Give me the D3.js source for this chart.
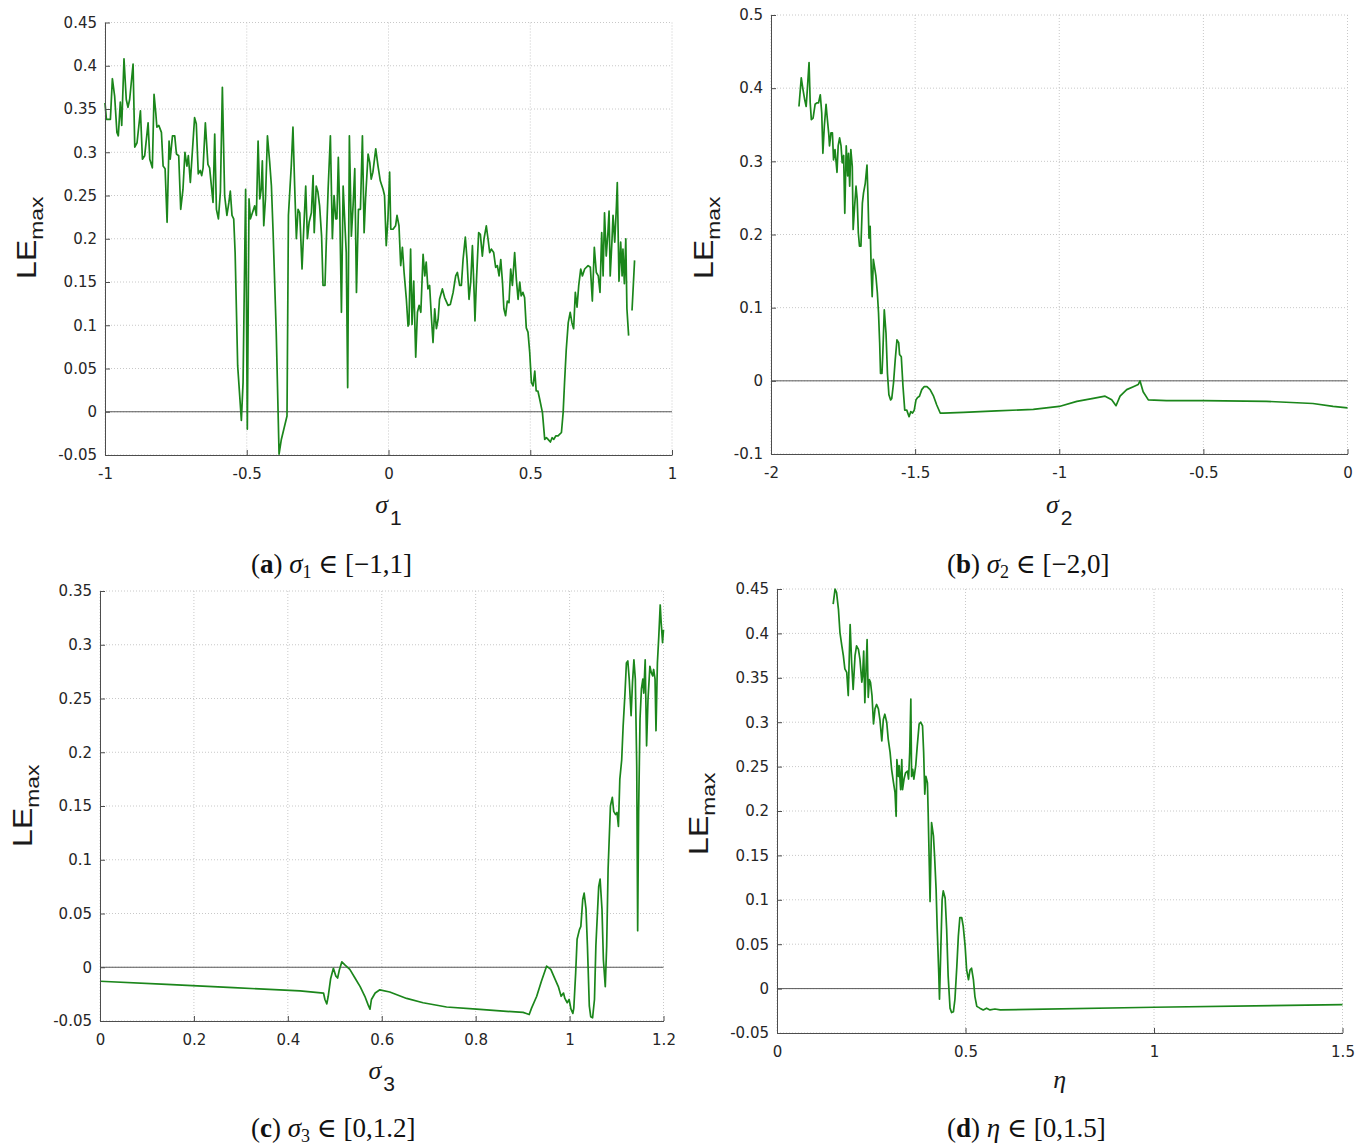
<!DOCTYPE html>
<html><head><meta charset="utf-8">
<script src="https://cdn.jsdelivr.net/npm/d3@7"></script>
<style>body{margin:0;background:#fff}svg{display:block}</style>
</head><body>
<svg id="c" width="1368" height="1146"></svg>
<script>
// ---------- data (sigma / eta , LE_max) ----------
const seriesA = [[-1.000,0.357],[-0.995,0.338],[-0.981,0.338],[-0.974,0.385],[-0.966,0.365],[-0.958,0.323],[-0.953,0.319],[-0.946,0.358],[-0.941,0.331],[-0.933,0.408],[-0.925,0.361],[-0.919,0.352],[-0.913,0.361],[-0.901,0.402],[-0.895,0.306],[-0.887,0.311],[-0.875,0.348],[-0.868,0.292],[-0.860,0.296],[-0.848,0.334],[-0.842,0.292],[-0.833,0.282],[-0.827,0.367],[-0.821,0.346],[-0.817,0.329],[-0.810,0.331],[-0.801,0.323],[-0.795,0.284],[-0.788,0.281],[-0.781,0.219],[-0.774,0.313],[-0.770,0.292],[-0.762,0.319],[-0.754,0.319],[-0.748,0.298],[-0.740,0.296],[-0.733,0.234],[-0.725,0.257],[-0.718,0.300],[-0.711,0.284],[-0.706,0.296],[-0.699,0.265],[-0.692,0.300],[-0.684,0.340],[-0.678,0.333],[-0.671,0.275],[-0.664,0.279],[-0.659,0.273],[-0.654,0.282],[-0.646,0.334],[-0.637,0.286],[-0.631,0.282],[-0.619,0.242],[-0.613,0.321],[-0.607,0.234],[-0.600,0.223],[-0.593,0.254],[-0.586,0.375],[-0.578,0.250],[-0.570,0.227],[-0.563,0.242],[-0.558,0.255],[-0.552,0.227],[-0.546,0.223],[-0.541,0.184],[-0.532,0.053],[-0.519,-0.010],[-0.513,0.034],[-0.504,0.257],[-0.498,-0.020],[-0.492,0.246],[-0.487,0.223],[-0.480,0.230],[-0.472,0.238],[-0.466,0.227],[-0.460,0.313],[-0.454,0.246],[-0.449,0.257],[-0.445,0.290],[-0.440,0.215],[-0.434,0.246],[-0.427,0.319],[-0.419,0.288],[-0.413,0.261],[-0.407,0.207],[-0.396,0.092],[-0.386,-0.049],[-0.378,-0.032],[-0.358,-0.005],[-0.353,0.227],[-0.343,0.284],[-0.337,0.329],[-0.331,0.261],[-0.325,0.200],[-0.319,0.234],[-0.313,0.230],[-0.305,0.165],[-0.299,0.211],[-0.292,0.261],[-0.286,0.200],[-0.280,0.219],[-0.272,0.230],[-0.266,0.273],[-0.262,0.207],[-0.255,0.261],[-0.249,0.254],[-0.243,0.238],[-0.236,0.203],[-0.231,0.146],[-0.224,0.146],[-0.219,0.200],[-0.213,0.257],[-0.205,0.319],[-0.198,0.200],[-0.192,0.250],[-0.186,0.223],[-0.182,0.223],[-0.177,0.294],[-0.172,0.234],[-0.166,0.115],[-0.160,0.261],[-0.153,0.211],[-0.149,0.184],[-0.144,0.028],[-0.138,0.319],[-0.131,0.203],[-0.125,0.238],[-0.119,0.281],[-0.113,0.138],[-0.106,0.234],[-0.099,0.234],[-0.092,0.319],[-0.086,0.207],[-0.081,0.246],[-0.072,0.298],[-0.066,0.288],[-0.061,0.269],[-0.055,0.277],[-0.045,0.304],[-0.037,0.284],[-0.029,0.267],[-0.019,0.257],[-0.014,0.250],[-0.008,0.192],[-0.002,0.223],[0.004,0.277],
[0.008,0.211],[0.016,0.211],[0.025,0.215],[0.030,0.227],[0.037,0.215],[0.043,0.169],[0.049,0.190],[0.055,0.161],[0.063,0.130],[0.069,0.099],[0.072,0.101],[0.078,0.188],[0.083,0.101],[0.089,0.151],[0.096,0.063],[0.102,0.115],[0.108,0.123],[0.114,0.115],[0.122,0.182],[0.128,0.157],[0.133,0.173],[0.139,0.142],[0.145,0.146],[0.151,0.111],[0.157,0.080],[0.163,0.119],[0.169,0.096],[0.175,0.107],[0.180,0.130],[0.190,0.142],[0.198,0.132],[0.210,0.123],[0.218,0.124],[0.228,0.138],[0.237,0.157],[0.243,0.161],[0.251,0.146],[0.257,0.146],[0.263,0.176],[0.271,0.202],[0.277,0.176],[0.284,0.130],[0.290,0.150],[0.296,0.192],[0.302,0.138],[0.305,0.105],[0.310,0.150],[0.318,0.207],[0.324,0.205],[0.331,0.180],[0.337,0.200],[0.345,0.215],[0.351,0.200],[0.357,0.184],[0.363,0.188],[0.371,0.184],[0.378,0.167],[0.384,0.169],[0.390,0.157],[0.396,0.176],[0.402,0.150],[0.407,0.119],[0.413,0.111],[0.419,0.128],[0.425,0.126],[0.431,0.165],[0.437,0.146],[0.445,0.184],[0.451,0.153],[0.457,0.130],[0.463,0.150],[0.468,0.134],[0.474,0.138],[0.480,0.132],[0.486,0.097],[0.492,0.092],[0.498,0.069],[0.504,0.034],[0.510,0.030],[0.516,0.047],[0.521,0.024],[0.527,0.024],[0.533,0.015],[0.543,-0.001],[0.551,-0.032],[0.557,-0.030],[0.563,-0.032],[0.571,-0.035],[0.577,-0.030],[0.583,-0.032],[0.590,-0.028],[0.598,-0.028],[0.610,-0.024],[0.616,-0.001],[0.621,0.034],[0.627,0.072],[0.634,0.103],[0.641,0.115],[0.647,0.103],[0.653,0.096],[0.659,0.138],[0.665,0.121],[0.671,0.146],[0.678,0.165],[0.684,0.157],[0.692,0.165],[0.704,0.169],[0.712,0.167],[0.719,0.128],[0.726,0.190],[0.733,0.161],[0.740,0.157],[0.746,0.138],[0.752,0.207],[0.757,0.157],[0.762,0.230],[0.768,0.180],[0.774,0.207],[0.778,0.232],[0.782,0.157],[0.788,0.196],[0.792,0.227],[0.798,0.196],[0.804,0.238],[0.807,0.265],[0.813,0.151],[0.819,0.196],[0.824,0.157],[0.827,0.188],[0.832,0.148],[0.837,0.200],[0.841,0.119],[0.847,0.088],[0.853,null],[0.859,0.117],[0.868,0.175]];

const seriesB = [[-1.903,0.375],[-1.895,0.414],[-1.889,0.398],[-1.883,0.384],[-1.878,0.375],[-1.874,0.398],[-1.868,0.435],[-1.864,0.380],[-1.860,0.357],[-1.854,0.359],[-1.847,0.378],[-1.841,0.380],[-1.835,0.380],[-1.829,0.391],[-1.824,0.366],[-1.820,0.311],[-1.815,0.348],[-1.809,0.378],[-1.806,0.364],[-1.800,0.339],[-1.797,0.321],[-1.792,0.339],[-1.787,0.339],[-1.783,0.302],[-1.778,0.316],[-1.771,0.285],[-1.767,0.321],[-1.762,0.332],[-1.757,0.321],[-1.753,0.298],[-1.748,0.308],[-1.744,0.229],[-1.739,0.321],[-1.734,0.280],[-1.731,0.311],[-1.727,0.266],[-1.723,0.316],[-1.718,0.293],[-1.715,0.207],[-1.710,0.238],[-1.705,0.266],[-1.701,0.248],[-1.697,0.202],[-1.693,0.184],[-1.688,0.184],[-1.683,0.243],[-1.679,0.257],[-1.673,0.270],[-1.667,0.295],[-1.664,0.257],[-1.660,0.195],[-1.656,0.211],[-1.652,0.147],[-1.649,0.115],[-1.645,0.166],[-1.641,0.156],[-1.636,0.143],[-1.631,0.120],[-1.627,0.093],[-1.623,0.052],[-1.620,0.010],[-1.615,0.010],[-1.612,0.038],[-1.607,0.097],[-1.601,0.065],[-1.596,0.010],[-1.591,-0.019],[-1.585,-0.026],[-1.581,-0.024],[-1.575,-0.003],[-1.569,0.029],[-1.563,0.056],[-1.557,0.052],[-1.554,0.036],[-1.548,0.033],[-1.542,-0.008],[-1.536,-0.040],[-1.529,-0.040],[-1.521,-0.049],[-1.515,-0.042],[-1.509,-0.044],[-1.503,-0.040],[-1.497,-0.026],[-1.492,-0.023],[-1.485,-0.021],[-1.477,-0.012],[-1.469,-0.008],[-1.459,-0.008],[-1.448,-0.012],[-1.436,-0.021],[-1.425,-0.033],[-1.413,-0.044],[-1.402,-0.044],[-1.332,-0.043],[-1.217,-0.041],[-1.090,-0.039],[-1.000,-0.035],[-0.939,-0.028],[-0.882,-0.024],[-0.841,-0.021],[-0.818,-0.026],[-0.803,-0.034],[-0.789,-0.021],[-0.766,-0.012],[-0.743,-0.008],[-0.726,-0.005],[-0.720,0.000],[-0.709,-0.015],[-0.691,-0.026],[-0.628,-0.027],[-0.501,-0.027],[-0.281,-0.028],[-0.120,-0.031],[-0.050,-0.035],[0.000,-0.037]];

const seriesC = [[0.000,-0.013],[0.142,-0.016],[0.284,-0.019],[0.426,-0.022],[0.476,-0.024],[0.479,-0.030],[0.483,-0.034],[0.486,-0.027],[0.491,-0.011],[0.497,-0.001],[0.502,-0.008],[0.506,-0.010],[0.510,-0.002],[0.515,0.005],[0.522,0.002],[0.532,-0.002],[0.543,-0.010],[0.554,-0.018],[0.564,-0.027],[0.571,-0.035],[0.575,-0.039],[0.578,-0.030],[0.586,-0.024],[0.596,-0.021],[0.617,-0.023],[0.653,-0.029],[0.688,-0.033],[0.738,-0.037],[0.802,-0.039],[0.866,-0.041],[0.901,-0.042],[0.908,-0.043],[0.914,-0.044],[0.919,-0.038],[0.930,-0.027],[0.940,-0.013],[0.951,0.001],[0.960,-0.002],[0.969,-0.011],[0.976,-0.018],[0.982,-0.027],[0.987,-0.024],[0.990,-0.029],[0.995,-0.033],[0.999,-0.030],[1.003,-0.039],[1.007,-0.043],[1.009,-0.038],[1.013,-0.005],[1.016,0.026],[1.021,0.035],[1.024,0.038],[1.028,0.063],[1.031,0.069],[1.035,0.054],[1.038,0.020],[1.042,-0.036],[1.045,-0.046],[1.049,-0.047],[1.053,-0.030],[1.056,0.020],[1.062,0.075],[1.065,0.082],[1.069,0.054],[1.072,0.007],[1.076,-0.018],[1.079,0.020],[1.082,0.091],[1.087,0.150],[1.091,0.158],[1.094,0.145],[1.098,0.142],[1.101,0.144],[1.104,0.131],[1.107,0.175],[1.111,0.193],[1.114,0.224],[1.118,0.255],[1.121,0.283],[1.124,0.285],[1.127,0.268],[1.131,0.234],[1.134,0.265],[1.137,0.286],[1.140,0.268],[1.143,0.187],[1.145,0.034],[1.147,0.144],[1.150,0.231],[1.153,0.259],[1.156,0.268],[1.158,0.255],[1.161,0.286],[1.164,0.206],[1.167,0.249],[1.171,0.280],[1.174,0.274],[1.177,0.271],[1.179,0.277],[1.182,0.268],[1.184,0.220],[1.187,0.283],[1.190,0.308],[1.193,0.337],[1.195,0.321],[1.198,0.302],[1.200,0.314]];

const seriesD = [[0.149,0.433],[0.154,0.450],[0.158,0.446],[0.163,0.427],[0.167,0.401],[0.172,0.386],[0.176,0.375],[0.180,0.360],[0.185,0.356],[0.189,0.330],[0.194,0.410],[0.198,0.367],[0.202,0.337],[0.207,0.375],[0.211,0.386],[0.216,0.382],[0.220,0.371],[0.225,0.345],[0.227,0.352],[0.230,0.380],[0.233,0.322],[0.235,0.345],[0.239,0.393],[0.242,0.328],[0.245,0.348],[0.248,0.345],[0.252,0.330],[0.256,0.298],[0.260,0.315],[0.264,0.320],[0.269,0.315],[0.273,0.303],[0.278,0.279],[0.282,0.303],[0.286,0.309],[0.291,0.300],[0.295,0.281],[0.300,0.266],[0.304,0.247],[0.309,0.232],[0.313,0.221],[0.316,0.194],[0.318,0.258],[0.322,0.239],[0.324,0.251],[0.328,0.224],[0.331,0.258],[0.333,0.224],[0.337,0.236],[0.341,0.243],[0.346,0.245],[0.349,0.236],[0.352,0.266],[0.355,0.326],[0.357,0.239],[0.360,0.247],[0.363,0.236],[0.368,0.251],[0.372,0.273],[0.377,0.298],[0.381,0.300],[0.386,0.296],[0.389,0.266],[0.392,0.219],[0.395,0.239],[0.399,0.232],[0.401,0.198],[0.404,0.138],[0.406,0.098],[0.408,0.142],[0.410,0.187],[0.415,0.172],[0.418,0.149],[0.422,0.112],[0.425,0.067],[0.429,0.018],[0.431,-0.012],[0.434,0.036],[0.438,0.100],[0.441,0.110],[0.446,0.102],[0.450,0.067],[0.454,0.014],[0.459,-0.022],[0.463,-0.027],[0.468,-0.026],[0.472,-0.012],[0.477,0.025],[0.481,0.059],[0.485,0.080],[0.490,0.080],[0.494,0.070],[0.499,0.048],[0.503,0.021],[0.508,0.010],[0.512,0.021],[0.516,0.023],[0.521,0.010],[0.525,-0.009],[0.530,-0.020],[0.538,-0.022],[0.547,-0.024],[0.556,-0.022],[0.565,-0.024],[0.578,-0.023],[0.592,-0.024],[1.000,-0.021],[1.500,-0.018]];

// ---------- ticks ----------
const xTicksA = [-1, -0.5, 0, 0.5, 1];
const yTicksA = [-0.05, 0, 0.05, 0.1, 0.15, 0.2, 0.25, 0.3, 0.35, 0.4, 0.45];
const xTicksB = [-2, -1.5, -1, -0.5, 0];
const yTicksB = [-0.1, 0, 0.1, 0.2, 0.3, 0.4, 0.5];
const xTicksC = [0, 0.2, 0.4, 0.6, 0.8, 1, 1.2];
const yTicksC = [-0.05, 0, 0.05, 0.1, 0.15, 0.2, 0.25, 0.3, 0.35];
const xTicksD = [0, 0.5, 1, 1.5];
const yTicksD = [-0.05, 0, 0.05, 0.1, 0.15, 0.2, 0.25, 0.3, 0.35, 0.4, 0.45];

// ---------- labels ----------
const xSymbols = ["σ", "σ", "σ", "η"];
const xSubs = ["1", "2", "3", ""];
const captionLetters = ["a", "b", "c", "d"];
const captionRanges = ["[−1,1]", "[−2,0]", "[0,1.2]", "[0,1.5]"];

// ---------- layout ----------
const svg = d3.select("#c");
const panels = [
  {data: seriesA, xd: [-1, 1], yd: [-0.05, 0.45], xt: xTicksA, yt: yTicksA, l: 105, r: 672, t: 22.5, b: 455, ylx: 36, yly: 238, xly: 513, cx: 251, cy: 573},
  {data: seriesB, xd: [-2, 0], yd: [-0.1, 0.5], xt: xTicksB, yt: yTicksB, l: 771, r: 1347.5, t: 15, b: 454, ylx: 713, yly: 238, xly: 513, cx: 947, cy: 573},
  {data: seriesC, xd: [0, 1.2], yd: [-0.05, 0.35], xt: xTicksC, yt: yTicksC, l: 100, r: 663.5, t: 591, b: 1021, ylx: 32, yly: 806, xly: 1079, cx: 251, cy: 1137},
  {data: seriesD, xd: [0, 1.5], yd: [-0.05, 0.45], xt: xTicksD, yt: yTicksD, l: 777, r: 1342.5, t: 589, b: 1033, ylx: 708, yly: 814, xly: 1088, cx: 947, cy: 1137}
];

const fmt = d => d === 0 ? "0" : String(d);
const tickFont = "'DejaVu Sans', sans-serif";

panels.forEach((p, i) => {
  const x = d3.scaleLinear().domain(p.xd).range([p.l, p.r]);
  const y = d3.scaleLinear().domain(p.yd).range([p.b, p.t]);
  const g = svg.append("g");

  // grid
  g.selectAll(".vg").data(p.xt).join("line")
    .attr("x1", d => x(d)).attr("x2", d => x(d)).attr("y1", p.t).attr("y2", p.b)
    .attr("stroke", "#c8c8c8").attr("stroke-width", 1).attr("stroke-dasharray", "1,2");
  g.selectAll(".hg").data(p.yt).join("line")
    .attr("x1", p.l).attr("x2", p.r).attr("y1", d => y(d)).attr("y2", d => y(d))
    .attr("stroke", "#c8c8c8").attr("stroke-width", 1).attr("stroke-dasharray", "1,2");

  // zero reference line
  g.append("line").attr("x1", p.l).attr("x2", p.r).attr("y1", y(0)).attr("y2", y(0))
    .attr("stroke", "#5a5a5a").attr("stroke-width", 1);

  // data line
  const line = d3.line().defined(d => d[1] !== null).x(d => x(d[0])).y(d => y(d[1]));
  g.append("path").datum(p.data).attr("d", line)
    .attr("fill", "none").attr("stroke", "#1b861b").attr("stroke-width", 1.7)
    .attr("stroke-linejoin", "round");

  // axes
  const xa = d3.axisBottom(x).tickValues(p.xt).tickFormat(fmt).tickSizeInner(-5).tickSizeOuter(0).tickPadding(13);
  const ya = d3.axisLeft(y).tickValues(p.yt).tickFormat(fmt).tickSizeInner(-5).tickSizeOuter(0).tickPadding(8);
  [g.append("g").attr("transform", `translate(0,${p.b})`).call(xa),
   g.append("g").attr("transform", `translate(${p.l},0)`).call(ya)].forEach(ax => {
    ax.select(".domain").attr("stroke", "#4d4d4d");
    ax.selectAll(".tick line").attr("stroke", "#4d4d4d");
    ax.selectAll(".tick text").attr("fill", "#262626").style("font-family", tickFont).style("font-size", "15px");
  });

  // y label LE_max
  const yl = g.append("text")
    .attr("transform", `translate(${p.ylx},${p.yly}) rotate(-90) scale(1.2,1)`)
    .attr("text-anchor", "middle").attr("fill", "#1a1a1a")
    .style("font-family", "'Liberation Sans', Arial, sans-serif");
  yl.append("tspan").style("font-size", "27px").text("LE");
  yl.append("tspan").style("font-size", "19px").attr("dy", 7).text("max");

  // x label
  const xl = g.append("text").attr("x", (p.l + p.r) / 2).attr("y", p.xly)
    .attr("text-anchor", "middle").attr("fill", "#1a1a1a");
  xl.append("tspan").style("font-family", "'Liberation Serif', serif").style("font-style", "italic")
    .style("font-size", "26px").text(xSymbols[i]);
  if (xSubs[i]) xl.append("tspan").style("font-family", "'Liberation Sans', sans-serif")
    .style("font-size", "21px").attr("dx", 2).attr("dy", 12).text(xSubs[i]);

  // caption
  const cap = g.append("text").attr("x", p.cx).attr("y", p.cy).attr("fill", "#111")
    .style("font-family", "'Liberation Serif', 'DejaVu Serif', serif").style("font-size", "27px");
  cap.append("tspan").text("(");
  cap.append("tspan").style("font-weight", "bold").text(captionLetters[i]);
  cap.append("tspan").text(") ");
  cap.append("tspan").style("font-style", "italic").text(xSymbols[i]);
  if (xSubs[i]) {
    cap.append("tspan").style("font-size", "18px").attr("dy", 5).text(xSubs[i]);
    cap.append("tspan").attr("dy", -5).text(" ∈ " + captionRanges[i]);
  } else {
    cap.append("tspan").text(" ∈ " + captionRanges[i]);
  }
});
</script>
</body></html>
